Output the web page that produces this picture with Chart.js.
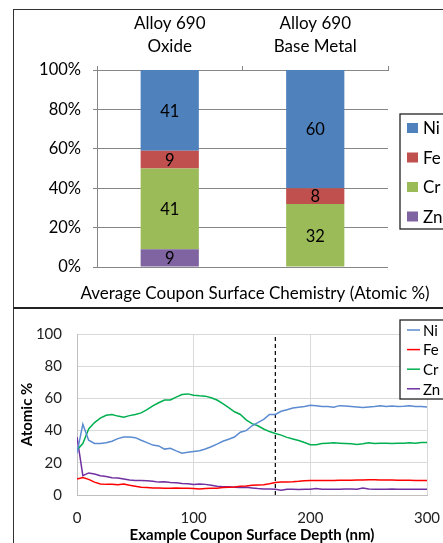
<!DOCTYPE html>
<html>
<head>
<meta charset="utf-8">
<script src="https://cdn.jsdelivr.net/npm/chart.js@4.4.1/dist/chart.umd.min.js"></script>
<style>
    html, body { margin: 0; padding: 0; background: #fff; overflow: hidden; }
    body { width: 443px; height: 543px; position: relative; }
    #frameTop { position: absolute; left: 13px; top: 9px; width: 500px; height: 298px; border-left: 1px solid #333; border-top: 1px solid #333; }
    #frameBottom { position: absolute; left: 13px; top: 307px; width: 500px; height: 300px; border-left: 1px solid #333; border-top: 2px solid #222; }
    canvas { position: absolute; }
    #barChart { left: 14px; top: 11px; }
    #lineChart { left: 14px; top: 310px; }
</style>
</head>
<body>
<div id="frameTop"></div>
<div id="frameBottom"></div>
<canvas id="barChart" width="429" height="296"></canvas>
<canvas id="lineChart" width="429" height="233"></canvas>
<script>
// top chart: average surface chemistry
const categories = [['Alloy 690', 'Oxide'], ['Alloy 690', 'Base Metal']];
const avgNi = [41, 60];
const avgFe = [9, 8];
const avgCr = [41, 32];
const avgZn = [9, 0];
const barCaption = 'Average Coupon Surface Chemistry (Atomic %)';

// bottom chart: depth profile (nm)
const depth = [0, 5, 10, 15, 20, 25, 30, 35, 40, 45, 50, 55, 60, 65, 70, 75, 80, 85, 90, 95,
    100, 105, 110, 115, 120, 125, 130, 135, 140, 145, 150, 155, 160, 165, 170, 175, 180, 185, 190, 195,
    200, 205, 210, 215, 220, 225, 230, 235, 240, 245, 250, 255, 260, 265, 270, 275, 280, 285, 290, 295, 300];
const profNi = [26, 44, 34, 32, 32, 32.5, 33.4, 35, 36, 36, 35.6, 34, 32.5, 31, 30.5, 28.5, 29, 27.4, 26, 26.5,
    27, 27.5, 28.6, 30, 31.6, 33.4, 34.6, 36, 39, 40, 43, 45, 47, 50, 50, 52, 53, 54, 54.5, 55,
    55.7, 55.5, 55, 55, 54.5, 55.5, 55.3, 55, 54.7, 54.3, 54.7, 55, 55.5, 55, 55.3, 55, 55.1, 55.5, 55, 55, 54.7];
const profFe = [10, 10.9, 9.7, 8, 6.8, 6.6, 6.6, 6.4, 6.8, 6, 5.4, 4.8, 4.6, 4.4, 4.4, 4.2, 4.2, 4.4, 4.2, 4.2,
    4, 3.8, 4, 4.2, 4.2, 4.6, 4.8, 5, 5.4, 5.6, 6, 6.2, 6.4, 7, 7.8, 8, 8, 8.2, 8.5, 8.9,
    9, 9, 9, 9, 9, 9.1, 9.2, 9.2, 9.3, 9.3, 9.5, 9.4, 9.3, 9.3, 9.3, 9.2, 9.2, 9.1, 9, 9, 9];
const profCr = [28, 32, 41, 45, 47.7, 49.5, 50, 49, 48.3, 49.3, 50, 51, 53, 55.3, 57.3, 59, 59, 60.8, 62.4, 62.8,
    62, 61.6, 61.4, 60.4, 59, 56.7, 54.3, 51.7, 50, 46.7, 44.3, 43, 41, 39.4, 38.2, 37.2, 35.8, 34.8, 33.8, 32.6,
    31.2, 31.2, 32, 32.2, 32.4, 32.2, 32, 31.8, 31.4, 31.8, 32.4, 32, 32.2, 32.2, 32, 32.2, 32.2, 32.4, 32.2, 32.6, 32.6];
const profZn = [36, 12, 13.7, 13, 12, 11.5, 10.7, 10.5, 9.9, 9.3, 9, 9, 8.9, 8.5, 8, 8.2, 7.8, 7.6, 7.2, 7,
    6.6, 6.8, 6.6, 6, 5.4, 5.2, 5.2, 4.8, 4.6, 4.8, 4.4, 4, 3.8, 3.8, 3.6, 3, 3.6, 3.6, 3.4, 3.6,
    3.6, 4, 3.6, 3.6, 3.6, 3.6, 3.8, 3.8, 3.6, 4.4, 3.8, 3.6, 3.6, 3.6, 3.7, 3.6, 3.6, 3.5, 3.6, 3.6, 3.5];
const markerDepth = 170;

const FONT = 'Lato';

function xy(ys) {
    return depth.map((d, i) => ({ x: d, y: ys[i] }));
}

// value labels in the middle of each stacked segment
const barLabels = {
    id: 'barLabels',
    afterDatasetsDraw(chart) {
        const ctx = chart.ctx;
        ctx.save();
        ctx.font = '16.5px ' + FONT;
        ctx.fillStyle = '#000';
        ctx.textAlign = 'center';
        ctx.textBaseline = 'middle';
        chart.data.datasets.forEach((ds, i) => {
            chart.getDatasetMeta(i).data.forEach((bar, j) => {
                if (!ds.data[j]) return;
                ctx.fillText(ds.data[j], bar.x, (bar.y + bar.base) / 2 + 1);
            });
        });
        ctx.restore();
    }
};

// caption under the bar chart, excel puts it off centre
const caption = {
    id: 'caption',
    afterDraw(chart) {
        const ctx = chart.ctx;
        ctx.save();
        ctx.font = '17px ' + FONT;
        ctx.fillStyle = '#000';
        ctx.textAlign = 'center';
        ctx.textBaseline = 'middle';
        ctx.fillText(barCaption, 241, 283);
        ctx.restore();
    }
};

// framed legend like the excel one
function boxLegend(cfg) {
    return {
        id: 'boxLegend',
        afterDraw(chart) {
            const ctx = chart.ctx;
            let items = chart.data.datasets.filter(d => !d.noLegend);
            if (cfg.reverse) items = items.slice().reverse();
            ctx.save();
            ctx.fillStyle = '#fff';
            ctx.fillRect(cfg.x, cfg.y, cfg.w, cfg.h);
            ctx.strokeStyle = '#222';
            ctx.lineWidth = 1.3;
            ctx.strokeRect(cfg.x, cfg.y, cfg.w, cfg.h);
            ctx.font = cfg.font;
            ctx.textBaseline = 'middle';
            items.forEach((d, i) => {
                const y = cfg.first + i * cfg.step;
                if (cfg.square) {
                    ctx.fillStyle = d.backgroundColor;
                    ctx.fillRect(cfg.x + 7, y - 5, 11, 10);
                } else {
                    ctx.strokeStyle = d.borderColor;
                    ctx.lineWidth = 1.5;
                    ctx.beginPath();
                    ctx.moveTo(cfg.x + 7, y);
                    ctx.lineTo(cfg.x + 20, y);
                    ctx.stroke();
                }
                ctx.fillStyle = '#000';
                ctx.fillText(d.label, cfg.x + cfg.tx, y + 1);
            });
            ctx.restore();
        }
    };
}

new Chart(document.getElementById('barChart'), {
    type: 'bar',
    data: {
        labels: categories,
        datasets: [
            { label: 'Zn', data: avgZn, backgroundColor: '#8064A2' },
            { label: 'Cr', data: avgCr, backgroundColor: '#9BBB59' },
            { label: 'Fe', data: avgFe, backgroundColor: '#C0504D' },
            { label: 'Ni', data: avgNi, backgroundColor: '#4F81BD' }
        ]
    },
    options: {
        responsive: false,
        animation: false,
        layout: { padding: { left: 0, right: 55, top: 0, bottom: 40 } },
        datasets: { bar: { barPercentage: 1, categoryPercentage: 0.4 } },
        scales: {
            x: {
                stacked: true,
                position: 'top',
                grid: { offset: true, drawOnChartArea: false, color: '#868686', tickLength: 4 },
                border: { color: '#868686' },
                ticks: { font: { family: FONT, size: 17, lineHeight: 1.35 }, color: '#000', padding: 8 },
                afterFit: s => { s.height = 59; }
            },
            y: {
                stacked: true,
                min: 0,
                max: 100,
                ticks: { stepSize: 20, callback: v => v + '%', font: { family: FONT, size: 16.5 }, color: '#000', padding: 12 },
                grid: { color: '#868686', tickLength: 4 },
                border: { color: '#868686' },
                afterFit: s => { s.width = 83; }
            }
        },
        plugins: {
            legend: { display: false },
            tooltip: { enabled: false }
        }
    },
    plugins: [barLabels, caption, boxLegend({ x: 386, y: 103, w: 80, h: 115, first: 117, step: 29.5, tx: 23, square: true, reverse: true, font: '17px ' + FONT })]
});

new Chart(document.getElementById('lineChart'), {
    type: 'line',
    data: {
        datasets: [
            { label: 'Ni', data: xy(profNi), borderColor: '#5B8BD0' },
            { label: 'Fe', data: xy(profFe), borderColor: '#FF0000' },
            { label: 'Cr', data: xy(profCr), borderColor: '#00B050' },
            { label: 'Zn', data: xy(profZn), borderColor: '#7030A0' },
            {
                label: 'marker', noLegend: true,
                data: [{ x: markerDepth, y: 0 }, { x: markerDepth, y: 100 }],
                borderColor: '#000', borderDash: [4, 3], borderWidth: 1.2
            }
        ]
    },
    options: {
        responsive: false,
        animation: false,
        elements: { point: { radius: 0 }, line: { borderWidth: 1.5, tension: 0 } },
        layout: { padding: { left: 0, right: 16, top: 19, bottom: 0 } },
        scales: {
            x: {
                type: 'linear',
                min: 0,
                max: 300,
                ticks: { stepSize: 100, font: { family: FONT, size: 15 }, color: '#222', padding: 14 },
                grid: { color: '#d9d9d9', drawTicks: false },
                border: { color: '#bfbfbf' },
                title: {
                    display: true,
                    text: 'Example Coupon Surface Depth (nm)',
                    font: { family: FONT, size: 15, weight: 'bold' },
                    color: '#000',
                    padding: { top: 0, bottom: -1 }
                },
                afterFit: s => { s.height = 48; s.paddingLeft = 0; s.paddingRight = 0; }
            },
            y: {
                min: 0,
                max: 100,
                ticks: { stepSize: 20, font: { family: FONT, size: 15 }, color: '#222', padding: 15 },
                grid: { color: '#d9d9d9', drawTicks: false },
                border: { color: '#bfbfbf' },
                title: {
                    display: true,
                    text: 'Atomic %',
                    font: { family: FONT, size: 15, weight: 'bold' },
                    color: '#000',
                    padding: { top: 4, bottom: 0 }
                },
                afterFit: s => { s.width = 63; }
            }
        },
        plugins: {
            legend: { display: false },
            tooltip: { enabled: false }
        }
    },
    plugins: [boxLegend({ x: 386, y: 10, w: 80, h: 79, first: 20, step: 19.6, tx: 23, square: false, font: '15px ' + FONT })]
});
</script>
</body>
</html>
